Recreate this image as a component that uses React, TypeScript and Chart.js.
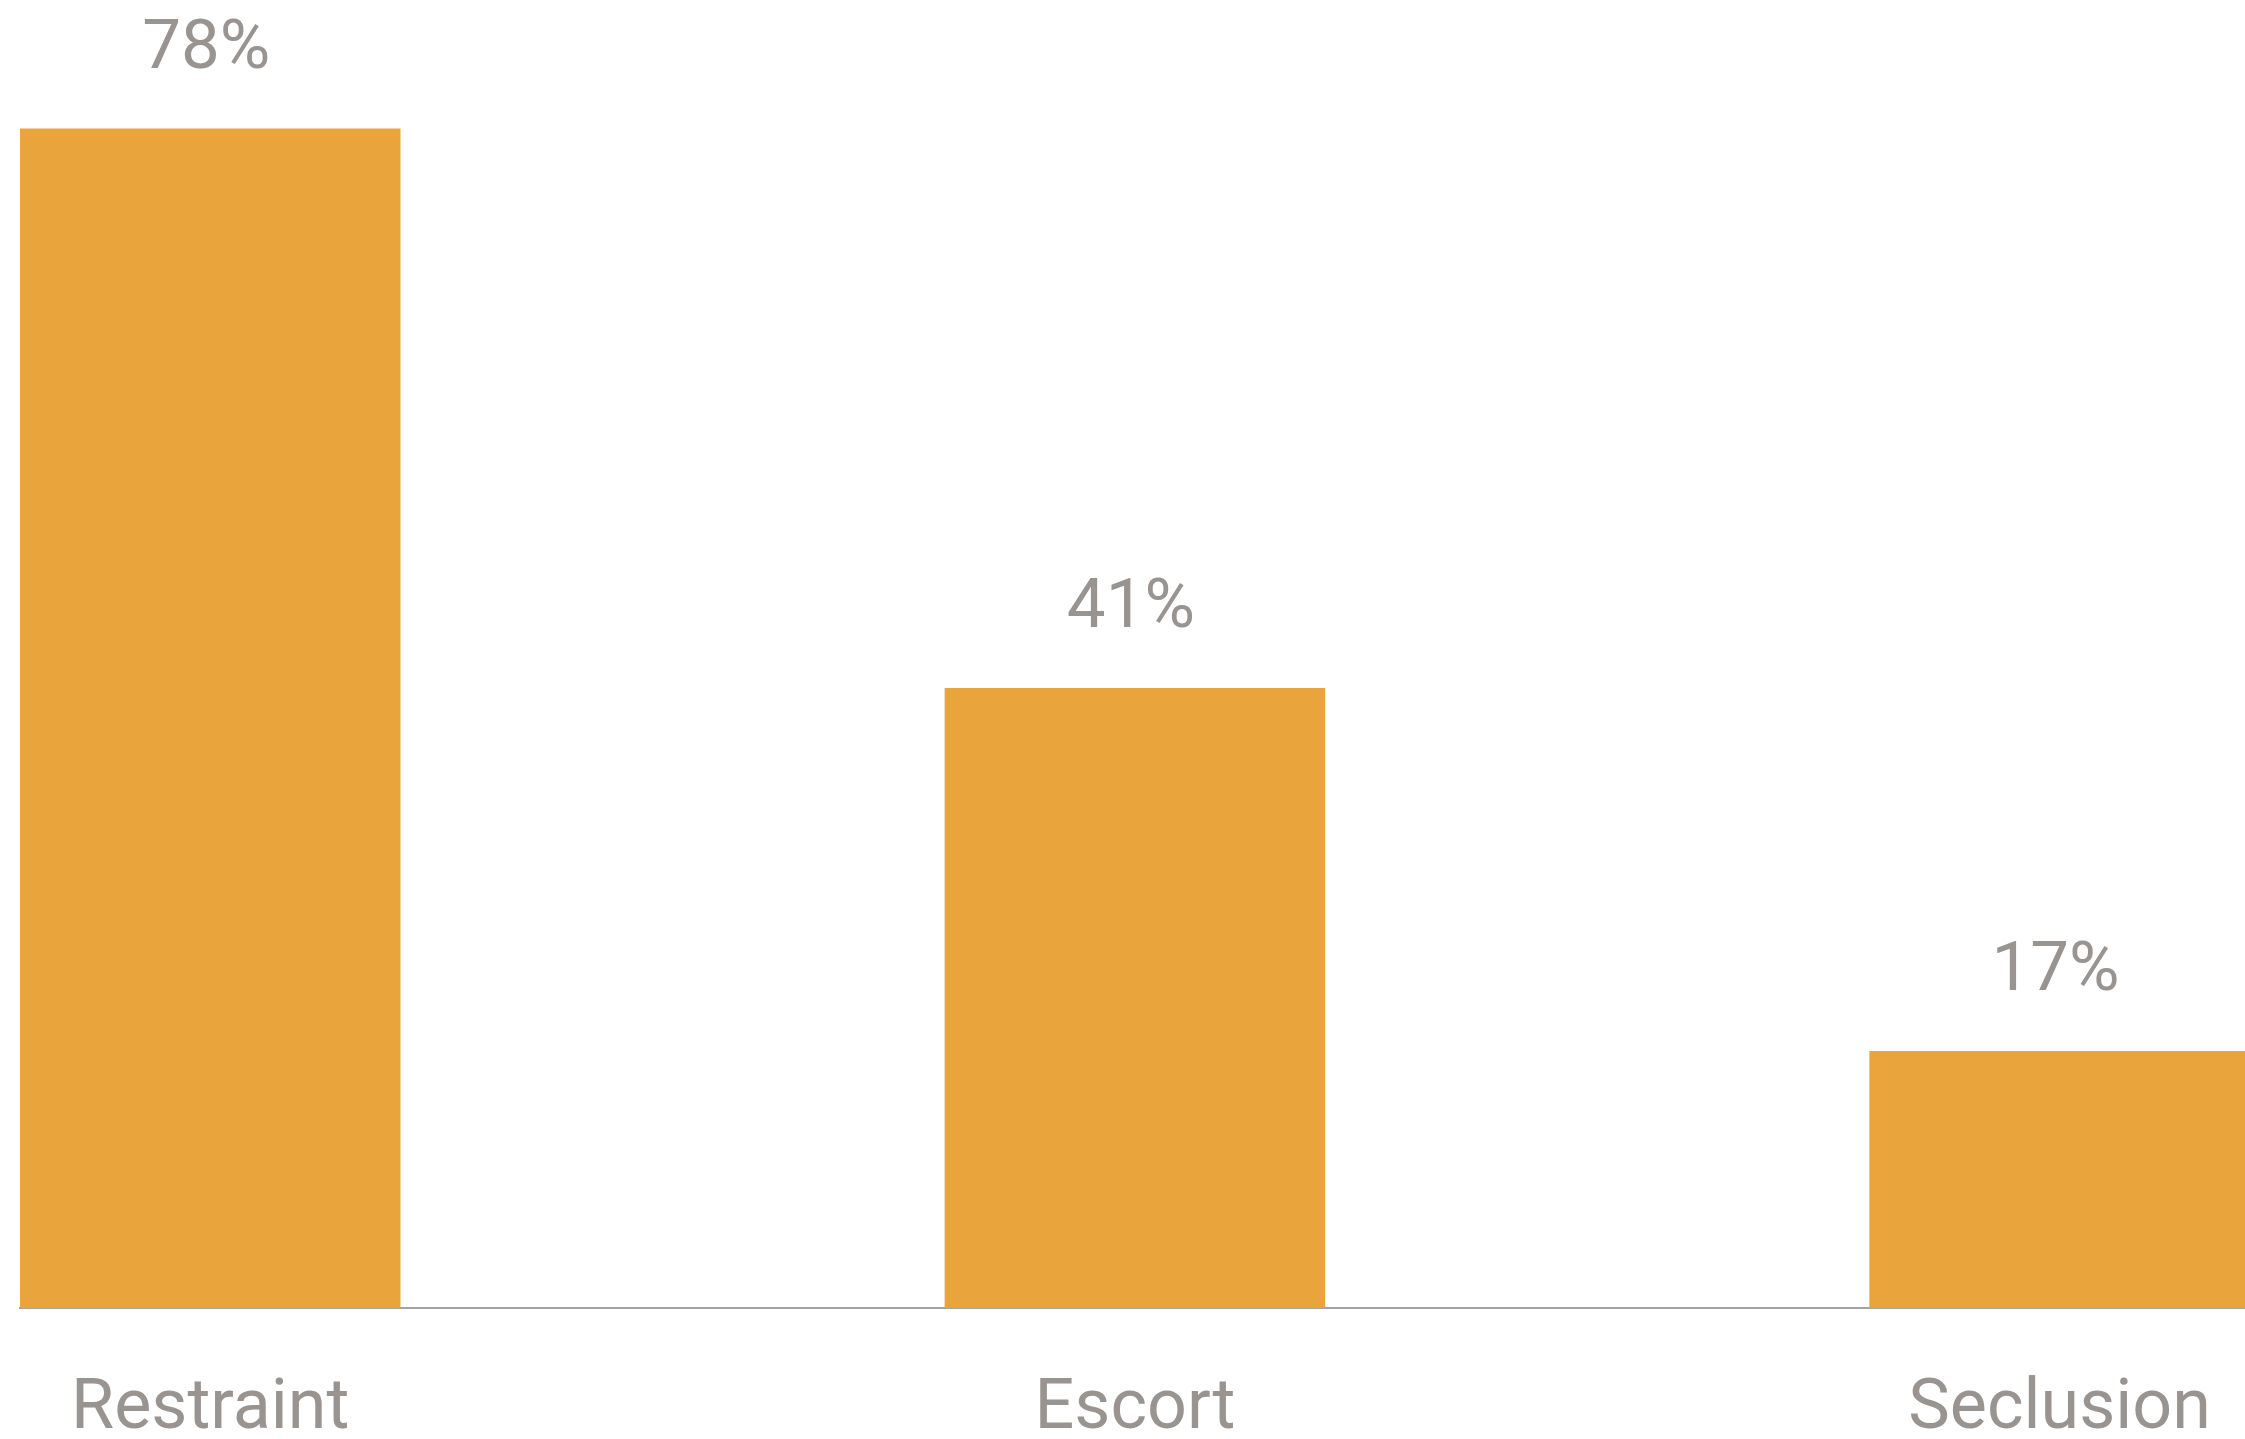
import React, { useEffect, useRef } from "react";
import { Chart, registerables } from "chart.js";

Chart.register(...registerables);

const categories = ["Restraint", "Escort", "Seclusion"];
const values = [78, 41, 17];
const valueLabels = ["78%", "41%", "17%"];

const BAR_COLOR = "#E9A43C";
const TEXT_COLOR = "#9A9491";
const AXIS_COLOR = "#A3A3A3";
const FONT = "Roboto";

const valueLabelPlugin = {
  id: "valueLabels",
  afterDatasetsDraw(chart: any) {
    const ctx = chart.ctx;
    const meta = chart.getDatasetMeta(0);
    ctx.save();
    ctx.font = `69px ${FONT}`;
    ctx.fillStyle = TEXT_COLOR;
    ctx.textAlign = "center";
    ctx.textBaseline = "alphabetic";
    meta.data.forEach((bar: any, i: number) => {
      ctx.fillText(valueLabels[i], bar.x - 4, bar.y - 61);
    });
    ctx.restore();
  },
};

export default function App() {
  const canvasRef = useRef<HTMLCanvasElement | null>(null);

  useEffect(() => {
    if (!canvasRef.current) return;
    const chart = new Chart(canvasRef.current, {
      type: "bar",
      data: {
        datasets: [
          {
            data: categories.map((_, i) => ({ x: i, y: values[i] })),
            backgroundColor: BAR_COLOR,
            borderWidth: 0,
            categoryPercentage: 1,
            barPercentage: 0.4115,
          },
        ],
      },
      options: {
        animation: false,
        responsive: true,
        maintainAspectRatio: false,
        devicePixelRatio: 1,
        layout: { padding: { left: 20, right: 0, top: 0, bottom: 0 } },
        plugins: {
          legend: { display: false },
          tooltip: { enabled: false },
        },
        scales: {
          x: {
            type: "linear",
            offset: false,
            min: -0.2057,
            max: 2.2005,
            grid: { display: false, drawTicks: false, tickLength: 0, offset: false },
            border: { display: true, color: AXIS_COLOR, width: 2 },
            afterBuildTicks: (scale: any) => {
              scale.ticks = categories.map((_, i) => ({ value: i }));
            },
            afterFit: (scale: any) => {
              scale.height = 131;
              scale.paddingLeft = 0;
              scale.paddingRight = 0;
            },
            ticks: {
              autoSkip: false,
              maxRotation: 0,
              padding: 60,
              color: TEXT_COLOR,
              font: { family: FONT, size: 70 },
              callback: (v: any) => categories[Math.round(Number(v))] ?? "",
            },
          },
          y: {
            display: false,
            min: 0,
            max: 86.5,
          },
        },
      },
      plugins: [valueLabelPlugin],
    });
    return () => chart.destroy();
  }, []);

  return (
    <div
      style={{
        position: "fixed",
        left: 0,
        top: 0,
        width: "2245px",
        height: "1439px",
        background: "#fff",
      }}
    >
      <canvas ref={canvasRef} />
    </div>
  );
}
